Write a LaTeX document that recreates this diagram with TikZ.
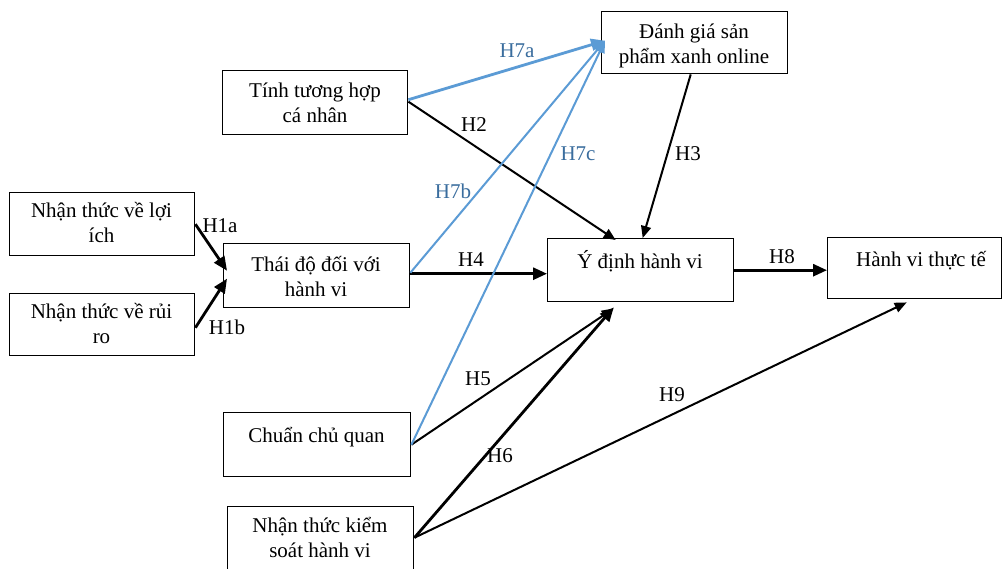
\documentclass[tikz,border=0pt]{standalone}
\usepackage{fontspec}
\setmainfont{Liberation Serif}
\usetikzlibrary{arrows.meta,calc}
\definecolor{pathblue}{RGB}{91,155,213}
\definecolor{labelblue}{RGB}{58,109,158}
\newcommand{\firstline}{\rule{0pt}{22pt}}
\begin{document}
\begin{tikzpicture}[x=1pt,y=-1pt,
  every node/.style={font=\fontsize{21}{25}\selectfont},
  box/.style={draw=black,line width=1.4pt,rectangle,inner sep=0pt,anchor=north west},
  txt/.style={anchor=north,inner sep=0pt,align=center},
  hlabel/.style={inner sep=0pt,anchor=center},
  tip/.style={-{Triangle[length=12pt,width=10pt]}},
  bigtip/.style={-{Triangle[length=14pt,width=12pt]}},
  link/.style={tip,draw=black,line width=2pt},
  boldlink/.style={bigtip,draw=black,line width=2.8pt},
  bluelink/.style={tip,draw=pathblue,line width=2pt},
  boldbluelink/.style={bigtip,draw=pathblue,line width=2.8pt}]
\useasboundingbox[fill=white] (0,0) rectangle (1003,568);

% boxes
\node[box,minimum width=185pt,minimum height=63pt] (loiich) at (9,192) {};
\node[box,minimum width=185pt,minimum height=62pt] (ruiro) at (9,293) {};
\node[box,minimum width=186pt,minimum height=64pt] (thaido) at (223,243) {};
\node[box,minimum width=185pt,minimum height=64pt] (tuonghop) at (222,70) {};
\node[box,minimum width=186pt,minimum height=62pt] (danhgia) at (601,11) {};
\node[box,minimum width=186pt,minimum height=63pt] (ydinh) at (547,238) {};
\node[box,minimum width=174pt,minimum height=61pt] (hanhvi) at (827,237) {};
\node[box,minimum width=187pt,minimum height=64pt] (chuan) at (223,412) {};
\node[box,minimum width=186pt,minimum height=64pt] (ntks) at (227,506) {};

% box texts
\node[txt] (loiich-t) at (101.5,195) {\firstline Nhận thức về lợi\\ích};
\node[txt] (ruiro-t) at (101.5,296) {\firstline Nhận thức về rủi\\ro};
\node[txt] (thaido-t) at (316,249) {\firstline Thái độ đối với\\hành vi};
\node[txt] (tuonghop-t) at (315,75) {\firstline Tính tương hợp\\cá nhân};
\node[txt] (danhgia-t) at (694,16) {\firstline Đánh giá sản\\phẩm xanh online};
\node[txt] (ydinh-t) at (640,246) {\firstline Ý định hành vi};
\node[txt] (hanhvi-t) at (921,244) {\firstline Hành vi thực tế};
\node[txt] (chuan-t) at (316.5,420) {\firstline Chuẩn chủ quan};
\node[txt] (ntks-t) at (320,510) {\firstline Nhận thức kiểm\\soát hành vi};

% black paths
\draw[boldlink] (loiich.east) -- ([xshift=4pt,yshift=5pt]thaido.west);
\draw[boldlink] ([yshift=-3pt]ruiro.east) -- ([xshift=4pt,yshift=-3pt]thaido.west);
\draw[link] ([yshift=1pt]tuonghop.east) -- ([xshift=-25pt,yshift=-2pt]ydinh.north);
\draw[link] ([xshift=-4pt]danhgia.south) -- ([xshift=2pt]ydinh.north);
\draw[boldlink] ([yshift=2pt]thaido.east) -- ([yshift=2pt]thaido.east -| ydinh.west);
\draw[link] (chuan.east) -- ([xshift=-27pt,yshift=-6pt]ydinh.south);
\draw[boldlink] ([yshift=1pt]ntks.east) -- ([xshift=-27pt,yshift=-5pt]ydinh.south);
\draw[boldlink] (ydinh.east) -- (ydinh.east -| hanhvi.west);
\draw[link] ([yshift=1pt]ntks.east) -- ([xshift=-8pt,yshift=-3pt]hanhvi.south);

% blue paths
\draw[boldbluelink] ([yshift=3pt]tuonghop.east) -- ([xshift=4pt,yshift=2pt]danhgia.west);
\draw[bluelink] ([yshift=3pt]thaido.east) -- ([xshift=4pt,yshift=2pt]danhgia.west);
\draw[bluelink] (chuan.east) -- ([xshift=4pt,yshift=2pt]danhgia.west);

% path labels
\node[hlabel] (lH1a) at (220,226) {H1a};
\node[hlabel] (lH1b) at (227,327) {H1b};
\node[hlabel] (lH2) at (474,125) {H2};
\node[hlabel] (lH3) at (688,154) {H3};
\node[hlabel] (lH4) at (471,260) {H4};
\node[hlabel] (lH5) at (478,379) {H5};
\node[hlabel] (lH6) at (500,456) {H6};
\node[hlabel] (lH8) at (782,257) {H8};
\node[hlabel] (lH9) at (672,395) {H9};
\node[hlabel,text=labelblue] (lH7a) at (517,51) {H7a};
\node[hlabel,text=labelblue] (lH7b) at (453,191) {H7b};
\node[hlabel,text=labelblue] (lH7c) at (578,154) {H7c};
\end{tikzpicture}
\end{document}
